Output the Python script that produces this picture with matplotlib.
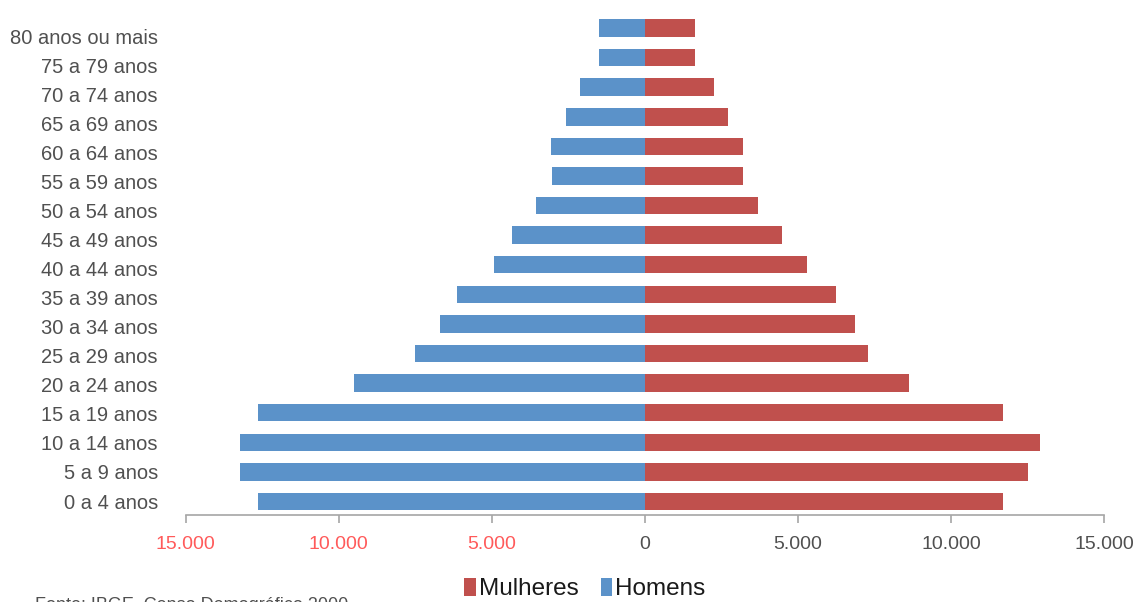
import matplotlib
matplotlib.use("Agg")
import matplotlib.pyplot as plt
from matplotlib.ticker import FuncFormatter, FixedLocator
from matplotlib.patches import Patch

# ---- data (bottom -> top) ----
categorias = ["0 a 4 anos", "5 a 9 anos", "10 a 14 anos", "15 a 19 anos",
              "20 a 24 anos", "25 a 29 anos", "30 a 34 anos", "35 a 39 anos",
              "40 a 44 anos", "45 a 49 anos", "50 a 54 anos", "55 a 59 anos",
              "60 a 64 anos", "65 a 69 anos", "70 a 74 anos", "75 a 79 anos",
              "80 anos ou mais"]
homens = [12630, 13210, 13210, 12630, 9490, 7500, 6700, 6130, 4935, 4330,
          3565, 3025, 3055, 2565, 2120, 1490, 1490]
mulheres = [11710, 12530, 12915, 11710, 8645, 7285, 6870, 6260, 5305, 4480,
            3685, 3195, 3195, 2730, 2250, 1655, 1655]
x_ticks = [-15000, -10000, -5000, 0, 5000, 10000, 15000]
legenda = ["Mulheres", "Homens"]
fonte = "Fonte: IBGE, Censo Demográfico 2000"

plt.rcParams['font.family'] = ['Liberation Sans', 'DejaVu Sans']

AZUL = "#5B92C9"
VERMELHO = "#C0504D"
CINZA_TXT = "#505050"

fig = plt.figure(figsize=(11.4, 6.02), dpi=100)
ax = fig.add_axes([0.1628, 0.144, 0.8056, 0.834])

y = list(range(len(categorias)))
ax.barh(y, [-h for h in homens], height=0.59, color=AZUL, edgecolor='none')
ax.barh(y, mulheres, height=0.59, color=VERMELHO, edgecolor='none')

ax.set_xlim(-15000, 15000)
ax.set_ylim(-0.47, len(categorias) - 0.5)
ax.set_yticks([])

# category labels on a twin axis (label spacing in the source differs slightly from bars)
ax2 = ax.twinx()
ax2.set_ylim(-0.492, 16.785)
ax2.yaxis.tick_left()
ax2.set_yticks(y)
ax2.set_yticklabels(categorias, fontsize=14.5, color=CINZA_TXT)
ax2.tick_params(axis='y', length=0, pad=20)
for s in ax2.spines.values():
    s.set_visible(False)

ax.xaxis.set_major_locator(FixedLocator(x_ticks))
ax.xaxis.set_major_formatter(FuncFormatter(lambda v, p: f"{abs(int(v)):,}".replace(",", ".")))
ax.tick_params(axis='x', direction='out', length=6, width=1.2, color='#A6A6A6',
               labelsize=14, pad=9)
for lbl, v in zip(ax.get_xticklabels(), x_ticks):
    lbl.set_color("#FF5A5A" if v < 0 else CINZA_TXT)

for s in ['top', 'right', 'left']:
    ax.spines[s].set_visible(False)
ax.spines['bottom'].set_color('#A6A6A6')
ax.spines['bottom'].set_linewidth(1.2)

handles = [Patch(facecolor=VERMELHO, edgecolor='none'),
           Patch(facecolor=AZUL, edgecolor='none')]
fig.legend(handles, legenda, loc='center', bbox_to_anchor=(0.513, 0.021),
           ncol=2, frameon=False, fontsize=17.5, handlelength=0.48,
           handleheight=0.72, handletextpad=0.12, columnspacing=0.9,
           labelcolor='#1A1A1A')

fig.text(0.031, 0.0085, fonte, fontsize=13, color=CINZA_TXT, va='top')

fig.savefig("out.png", dpi=100)
